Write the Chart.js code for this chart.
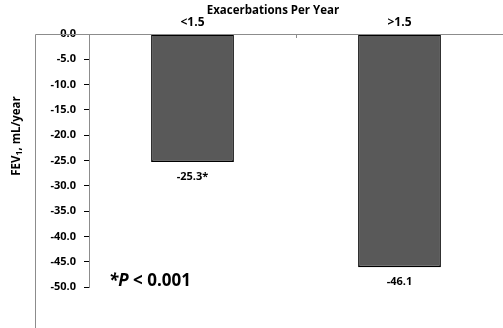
<!DOCTYPE html>
<html>
<head>
<meta charset="utf-8">
<script src="https://cdn.jsdelivr.net/npm/chart.js@4/dist/chart.umd.min.js"></script>
<style>
  html, body { margin: 0; padding: 0; background: #fff; }
  #wrap { width: 503px; height: 328px; position: relative; }
</style>
</head>
<body>
<div id="wrap"><canvas id="my_canvas"></canvas></div>
<script>
// chart data
var categories = ['<1.5', '>1.5'];
var fevDecline = [-25.3, -46.1];
var barLabels = ['-25.3*', '-46.1'];
var yTicks = [0, -5, -10, -15, -20, -25, -30, -35, -40, -45, -50];

var FONT = '"Open Sans", "Liberation Sans", sans-serif';

// frame lines, title, axis label, value labels, p-value note
var extras = {
    id: 'extras',
    afterDraw: function(chart) {
        var ctx = chart.ctx;
        var area = chart.chartArea;
        var x = chart.scales.x;
        ctx.save();

        // outer frame: left line and top line
        ctx.strokeStyle = '#8c8c8c';
        ctx.lineWidth = 1;
        ctx.beginPath();
        ctx.moveTo(35.5, chart.height);
        ctx.lineTo(35.5, area.top + 0.5);
        ctx.lineTo(area.right, area.top + 0.5);
        ctx.stroke();

        // category divider tick on the top axis
        var mid = (x.getPixelForValue(0) + x.getPixelForValue(1)) / 2;
        ctx.beginPath();
        ctx.moveTo(Math.round(mid) + 0.5, area.top);
        ctx.lineTo(Math.round(mid) + 0.5, area.top + 4);
        ctx.stroke();

        // axis title on top
        ctx.fillStyle = '#000';
        ctx.font = 'bold 11.5px ' + FONT;
        ctx.textAlign = 'center';
        ctx.textBaseline = 'middle';
        ctx.fillText('Exacerbations Per Year', 273, 11);

        // value labels under bars
        ctx.font = 'bold 11px ' + FONT;
        var meta = chart.getDatasetMeta(0);
        meta.data.forEach(function(bar, i) {
            ctx.fillText(barLabels[i], bar.x, bar.y + 15);
        });

        // y axis label with subscript
        ctx.translate(17, 136);
        ctx.rotate(-Math.PI / 2);
        var p1 = 'FEV', p2 = '1', p3 = ', mL/year';
        ctx.font = 'bold 11.5px ' + FONT;
        var w1 = ctx.measureText(p1).width;
        var w3 = ctx.measureText(p3).width;
        ctx.font = 'bold 8.5px ' + FONT;
        var w2 = ctx.measureText(p2).width;
        var start = -(w1 + w2 + w3) / 2;
        ctx.textAlign = 'left';
        ctx.font = 'bold 11.5px ' + FONT;
        ctx.fillText(p1, start, 0);
        ctx.font = 'bold 8.5px ' + FONT;
        ctx.fillText(p2, start + w1, 3);
        ctx.font = 'bold 11.5px ' + FONT;
        ctx.fillText(p3, start + w1 + w2, 0);
        ctx.setTransform(1, 0, 0, 1, 0, 0);

        // p value note
        ctx.textAlign = 'left';
        ctx.font = 'italic bold 17px ' + FONT;
        var px = 109;
        ctx.fillText('*P', px, 281);
        var wp = ctx.measureText('*P').width;
        ctx.font = 'bold 17px ' + FONT;
        ctx.fillText(' < 0.001', px + wp, 281);

        ctx.restore();
    }
};

var chartdata = {
    labels: categories,
    datasets: [
        {
            label: 'FEV1 decline',
            backgroundColor: '#595959',
            borderColor: '#000',
            borderWidth: 1.5,
            borderSkipped: false,
            categoryPercentage: 0.4,
            barPercentage: 1,
            data: fevDecline
        }
    ]
};

var barGraph = new Chart(document.getElementById('my_canvas'), {
    type: 'bar',
    data: chartdata,
    options: {
        responsive: true,
        maintainAspectRatio: false,
        animation: false,
        layout: { padding: { left: 0, right: 0, top: 0, bottom: 41 } },
        plugins: {
            legend: { display: false },
            tooltip: { enabled: false }
        },
        scales: {
            x: {
                position: 'top',
                grid: { display: false, drawTicks: false },
                border: { display: false },
                ticks: {
                    color: '#000',
                    font: { family: FONT, size: 12, weight: 700 },
                    padding: 4
                },
                afterFit: function(scale) { scale.height = 34; }
            },
            y: {
                min: -50,
                max: 0,
                grid: {
                    drawOnChartArea: false,
                    drawTicks: true,
                    tickLength: 5,
                    tickColor: '#000'
                },
                border: { display: true, color: '#8c8c8c' },
                afterBuildTicks: function(scale) {
                    scale.ticks = yTicks.map(function(v) { return { value: v }; });
                },
                ticks: {
                    color: '#000',
                    font: { family: FONT, size: 11, weight: 700 },
                    padding: 8,
                    callback: function(v) { return v.toFixed(1); }
                },
                afterFit: function(scale) { scale.width = 89; }
            }
        }
    },
    plugins: [extras]
});
</script>
</body>
</html>
